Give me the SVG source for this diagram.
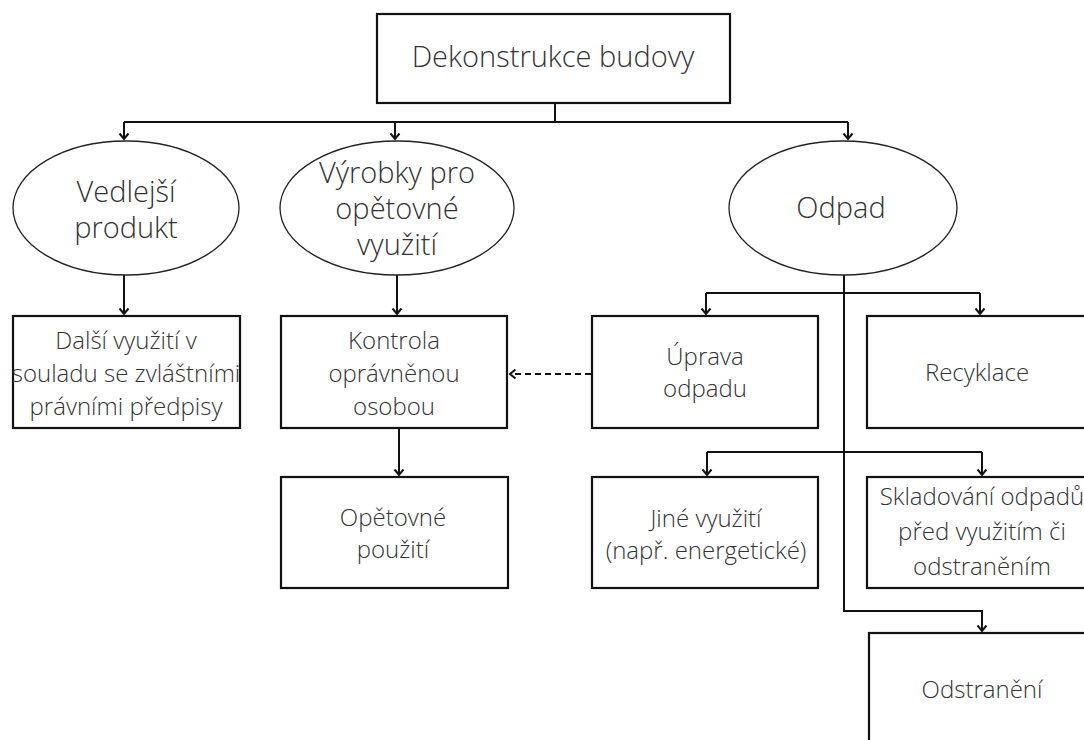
<svg xmlns="http://www.w3.org/2000/svg" width="1084" height="740" viewBox="0 0 1084 740">
<defs>
<marker id="arr" markerUnits="userSpaceOnUse" markerWidth="14" markerHeight="14" refX="7" refY="7" orient="auto" overflow="visible">
<path d="M1.5,2.5 L7,7 L1.5,11.5" fill="none" stroke="#111" stroke-width="2"/>
</marker>
</defs>
<style>
.box{fill:#fff;stroke:#111;stroke-width:2.2}
.ell{fill:#fff;stroke:#222;stroke-width:1.3}
.t{font-family:"Open Sans","Noto Sans","DejaVu Sans",sans-serif;font-weight:300;fill:#333;text-anchor:middle}
.big{font-size:29px}
.mid{font-size:29px}
.sm{font-size:24px}
.c{fill:none;stroke:#111;stroke-width:2}
.d{fill:none;stroke:#111;stroke-width:2;stroke-dasharray:6,4}
</style>
<rect width="1084" height="740" fill="#fff"/>
<g id="connectors">
<path class="c" d="M555,103 V122"/>
<path class="c" d="M124,122 H848"/>
<path class="c" d="M124,122 V139" marker-end="url(#arr)"/>
<path class="c" d="M395,122 V139" marker-end="url(#arr)"/>
<path class="c" d="M848,122 V139" marker-end="url(#arr)"/>
<path class="c" d="M124,275 V314" marker-end="url(#arr)"/>
<path class="c" d="M397,275 V314" marker-end="url(#arr)"/>
<path class="c" d="M399,428 V475" marker-end="url(#arr)"/>
<path class="c" d="M844,275 V611 H982 V631" marker-end="url(#arr)"/>
<path class="c" d="M706,293 H980"/>
<path class="c" d="M706,293 V314" marker-end="url(#arr)"/>
<path class="c" d="M980,293 V314" marker-end="url(#arr)"/>
<path class="c" d="M707,452 H982"/>
<path class="c" d="M707,452 V475" marker-end="url(#arr)"/>
<path class="c" d="M982,452 V475" marker-end="url(#arr)"/>
<path class="d" d="M591,374 H510" marker-end="url(#arr)"/>
</g>
<g id="dekonstrukce">
<rect class="box" x="377" y="14" width="353" height="89"/>
<text class="t big" x="553" y="67">Dekonstrukce budovy</text>
</g>
<g id="vedlejsi">
<ellipse class="ell" cx="126" cy="208" rx="113" ry="67"/>
<text class="t mid" x="126" y="202">Vedlejší</text>
<text class="t mid" x="126" y="238">produkt</text>
</g>
<g id="vyrobky">
<ellipse class="ell" cx="397" cy="208" rx="117" ry="67"/>
<text class="t mid" x="397" y="183">Výrobky pro</text>
<text class="t mid" x="397" y="219">opětovné</text>
<text class="t mid" x="397" y="255">využití</text>
</g>
<g id="odpad">
<ellipse class="ell" cx="843" cy="208" rx="114" ry="67"/>
<text class="t mid" x="841" y="218">Odpad</text>
</g>
<g id="dalsi">
<rect class="box" x="13" y="316" width="227" height="112"/>
<text class="t sm" x="126" y="349">Další využití v</text>
<text class="t sm" x="126" y="382">souladu se zvláštními</text>
<text class="t sm" x="126" y="415">právními předpisy</text>
</g>
<g id="kontrola">
<rect class="box" x="281" y="316" width="226" height="112"/>
<text class="t sm" x="394" y="349">Kontrola</text>
<text class="t sm" x="394" y="382">oprávněnou</text>
<text class="t sm" x="394" y="415">osobou</text>
</g>
<g id="uprava">
<rect class="box" x="592" y="316" width="226" height="112"/>
<text class="t sm" x="705" y="365">Úprava</text>
<text class="t sm" x="705" y="397">odpadu</text>
</g>
<g id="recyklace">
<rect class="box" x="867" y="316" width="230" height="112"/>
<text class="t sm" x="977" y="381">Recyklace</text>
</g>
<g id="opetovne">
<rect class="box" x="281" y="477" width="227" height="111"/>
<text class="t sm" x="393" y="526">Opětovné</text>
<text class="t sm" x="393" y="558">použití</text>
</g>
<g id="jine">
<rect class="box" x="592" y="477" width="226" height="111"/>
<text class="t sm" x="706" y="527">Jiné využití</text>
<text class="t sm" x="706" y="559">(např. energetické)</text>
</g>
<g id="skladovani">
<rect class="box" x="867" y="477" width="230" height="111"/>
<text class="t sm" x="982" y="505">Skladování odpadů</text>
<text class="t sm" x="982" y="540">před využitím či</text>
<text class="t sm" x="982" y="575">odstraněním</text>
</g>
<g id="odstraneni">
<rect class="box" x="869" y="633" width="230" height="120"/>
<text class="t sm" x="982" y="698">Odstranění</text>
</g>
</svg>
